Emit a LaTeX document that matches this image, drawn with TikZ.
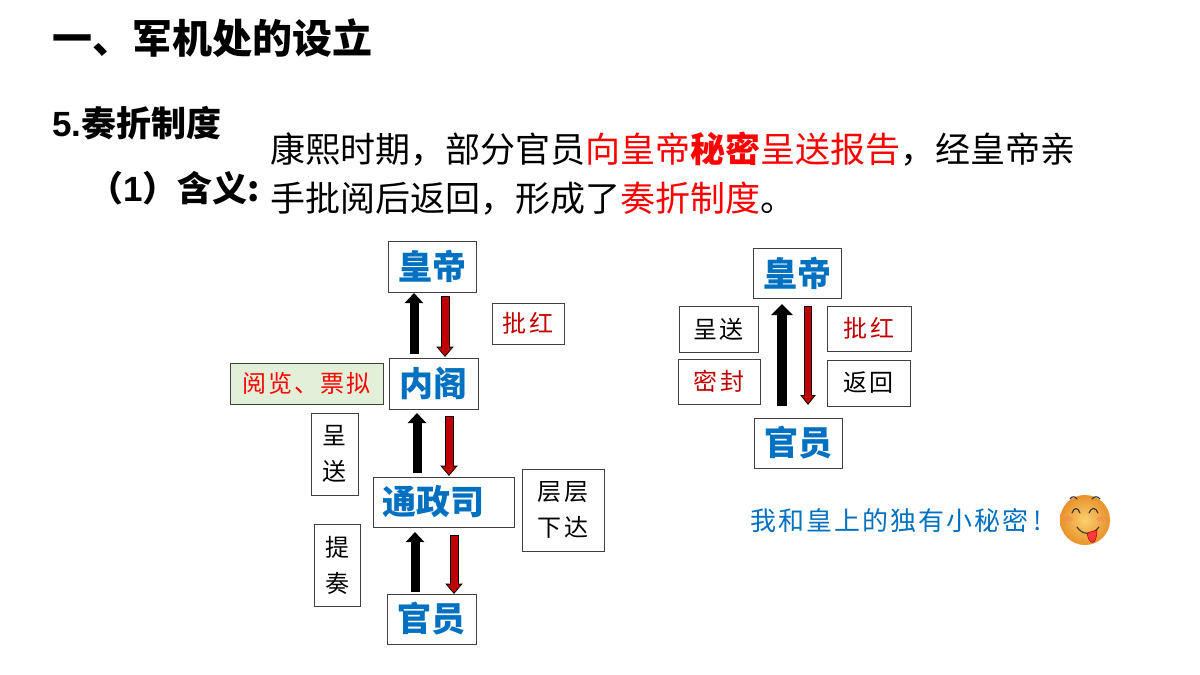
\documentclass[tikz,border=0pt]{standalone}
\usepackage{fontspec}
\setmainfont{Noto Sans CJK SC}
\newfontfamily\cjk{Noto Sans CJK SC}
\newfontfamily\cjksp[LetterSpace=9]{Noto Sans CJK SC}
\newfontfamily\cjkspb[LetterSpace=8]{Noto Sans CJK SC}
\newfontfamily\latinb{Liberation Sans}[BoldFont={Liberation Sans Bold}]
\usetikzlibrary{arrows.meta,calc}
\definecolor{hblue}{HTML}{0070C0}
\definecolor{dred}{HTML}{C00000}
\definecolor{pure}{HTML}{FF0000}
\definecolor{lgreen}{HTML}{E2F0D9}
\definecolor{fgray}{HTML}{404040}
\definecolor{emojimid}{HTML}{FBCF70}
\definecolor{emojiedge}{HTML}{E8922A}
\definecolor{cheek}{HTML}{F28A5A}
\tikzset{
  x=1pt,y=-1pt,
  subtxt/.style={font=\cjk\bfseries\fontsize{35}{35}\selectfont,text=black,inner sep=0pt,anchor=west},
  bodytxt/.style={font=\cjk\fontsize{35}{35}\selectfont,text=black,inner sep=0pt,anchor=west},
  titletxt/.style={font=\cjk\bfseries\fontsize{40}{40}\selectfont,text=black,inner sep=0pt,anchor=west},
  bluebox/.style={draw=fgray,line width=1pt,fill=white,text=hblue,inner sep=0pt,outer sep=0pt,
    font=\cjk\bfseries\fontsize{34}{34}\selectfont},
  lblbox/.style={draw=fgray,line width=1pt,fill=white,text=black,inner sep=0pt,outer sep=0pt,align=center,
    font=\cjksp\fontsize{24}{36}\selectfont},
  up/.style={draw=black,line width=9pt,-{Triangle[length=10pt,width=18pt]}},
  upbig/.style={draw=black,line width=10pt,-{Triangle[length=11pt,width=21pt]}},
  downout/.style={draw=black,line width=9pt,-{Triangle[length=10.5pt,width=17pt]}},
  downin/.style={draw=dred,line width=7pt,-{Triangle[length=8pt,width=13.5pt]}},
  emojiline/.style={draw=black!80,line width=1.1pt,line cap=round},
}
\newcommand{\mkbox}[7]{\node[#1,minimum width=#5-#3,minimum height=#6-#4] (#2) at ({(#3+#5)/2},{(#4+#6)/2}) {#7};}
\newcommand{\redarr}[5]{%
  \draw[downout,shorten <=#4pt,shorten >=#5pt] (#2.south -| #1,0) -- (#3.north -| #1,0);
  \draw[downin,shorten <=#4+1pt,shorten >=#5+1.5pt] (#2.south -| #1,0) -- (#3.north -| #1,0);}
\newcommand{\lowered}[1]{\raisebox{-3pt}{#1}}
\begin{document}
\begin{tikzpicture}
\useasboundingbox (0,0) rectangle (1200,675);
\fill[white] (0,0) rectangle (1200,675);
% headings
\node[titletxt] (title) at (52,38) {一、军机处的设立};
\node[subtxt] (sub1) at (52,123) {{\latinb\bfseries 5.}奏折制度};
\node[subtxt,anchor=west] (sub2) at (88,188) {（{\latinb\bfseries 1}）含义:};
\node[bodytxt] (l1) at (270,149) {康熙时期，部分官员\textcolor{pure}{向皇帝{\bfseries 秘密}呈送报告}，经皇帝亲};
\node[bodytxt] (l2) at (270,199) {手批阅后返回，形成了\textcolor{pure}{奏折制度}。};
% left diagram
\mkbox{bluebox}{hd}{388}{241}{476}{292}{\lowered{皇帝}}
\mkbox{bluebox}{ng}{389}{358}{478}{409}{\lowered{内阁}}
\mkbox{bluebox}{tz}{373}{477}{514}{527}{\makebox[122pt][l]{\lowered{通政司}}}
\mkbox{bluebox}{gy}{387}{594}{476}{644}{\lowered{官员}}
\mkbox{lblbox}{ph}{492}{303}{564}{344}{\textcolor{dred}{批红}}
\mkbox{lblbox,fill=lgreen}{yl}{230}{363}{383}{404}{\textcolor{pure}{阅览、票拟}}
\mkbox{lblbox}{cs}{311}{413}{358}{495}{呈\\送}
\mkbox{lblbox}{cc}{522}{469}{604}{551}{层层\\下达}
\mkbox{lblbox}{tzou}{314}{524}{360}{606}{提\\奏}
\draw[up,shorten <=4pt,shorten >=1pt] (ng.north -| 414,0) -- (hd.south -| 414,0);
\draw[up,shorten <=4pt,shorten >=4pt] (tz.north -| 417,0) -- (ng.south -| 417,0);
\draw[up,shorten <=2pt,shorten >=5pt] (gy.north -| 415,0) -- (tz.south -| 415,0);
\redarr{445}{hd}{ng}{4}{1}
\redarr{449}{ng}{tz}{7}{1}
\redarr{454}{tz}{gy}{8}{0}
% right diagram
\mkbox{bluebox}{hd2}{753}{248}{841}{298}{\lowered{皇帝}}
\mkbox{bluebox}{gy2}{754}{418}{842}{468}{\lowered{官员}}
\mkbox{lblbox}{cs2}{679}{306}{758}{352}{呈送}
\mkbox{lblbox}{mf}{678}{359}{760}{404}{\textcolor{dred}{密封}}
\mkbox{lblbox}{ph2}{827}{306}{911}{351}{\textcolor{dred}{批红}}
\mkbox{lblbox}{fh}{827}{360}{910}{406}{返回}
\draw[upbig,shorten <=12pt,shorten >=6pt] (gy2.north -| 782,0) -- (hd2.south -| 782,0);
\draw[draw=black,line width=8pt,-{Triangle[length=10pt,width=15pt]},shorten <=8pt,shorten >=13pt] (hd2.south -| 808,0) -- (gy2.north -| 808,0);
\draw[draw=dred,line width=6pt,-{Triangle[length=8pt,width=12pt]},shorten <=9pt,shorten >=14.5pt] (hd2.south -| 808,0) -- (gy2.north -| 808,0);
\node[inner sep=0pt,anchor=west,text=hblue,font=\cjkspb\fontsize{26}{26}\selectfont] (msg) at (750,521) {我和皇上的独有小秘密\hspace{5pt}!};
% emoji
\shade[inner color=emojimid,outer color=emojiedge] (1085,520) circle[radius=25];
\fill[cheek,opacity=.6] (1067,519) ellipse[x radius=6,y radius=2.5];
\fill[cheek,opacity=.6] (1102,519) ellipse[x radius=6,y radius=2.5];
\draw[emojiline] (1070,499) .. controls (1072,496) and (1075,496) .. (1077,499);
\draw[emojiline] (1092,499) .. controls (1094,496) and (1098,496) .. (1100,499);
\draw[emojiline] (1072,513) .. controls (1074,507) and (1078,507) .. (1080,513);
\draw[emojiline] (1089,513) .. controls (1091,507) and (1096,507) .. (1098,513);
\draw[emojiline] (1077,527) .. controls (1082,535) and (1092,536) .. (1099,527);
\fill[red!70!pink,draw=red!60!black,line width=.5pt] (1087,533) .. controls (1089,546) and (1097,546) .. (1097,530) -- cycle;
\end{tikzpicture}
\end{document}
